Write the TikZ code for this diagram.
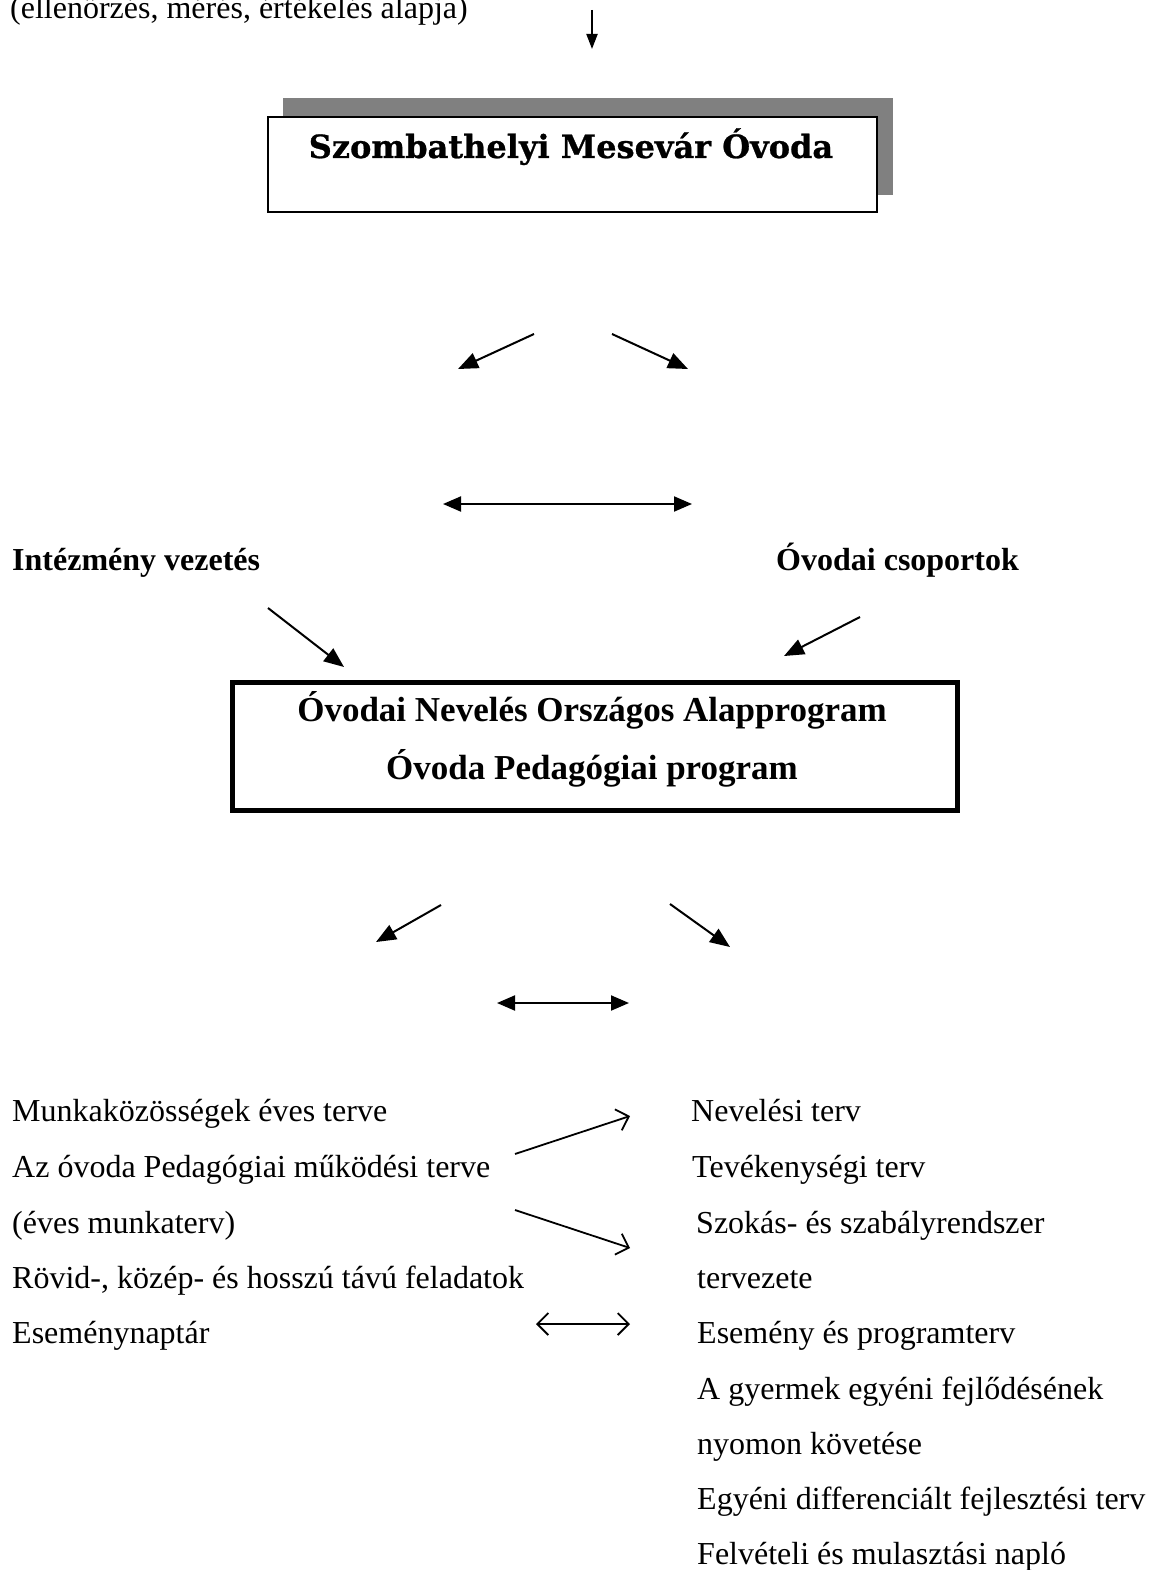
\documentclass[tikz,border=0pt]{standalone}
\usepackage{fontspec}
\setmainfont{Liberation Serif}
\newfontfamily\titlefont{DejaVu Serif}[BoldFeatures={FakeBold=0.8}]
\usetikzlibrary{arrows.meta}
\begin{document}
\begin{tikzpicture}[x=1pt,y=-1pt,
  reg/.style={anchor=base west,inner sep=0pt,font=\fontsize{32}{38}\selectfont},
  bld/.style={anchor=base west,inner sep=0pt,font=\fontsize{32}{38}\selectfont\bfseries},
  boxtxt/.style={anchor=base,inner sep=0pt,font=\fontsize{35}{42}\selectfont\bfseries},
  farrow/.style={line width=2pt,-{Triangle[length=20pt,width=16pt]}},
  fdarrow/.style={line width=2pt,{Triangle[length=18pt,width=15pt]}-{Triangle[length=18pt,width=15pt]}},
  oarrow/.style={line width=1.8pt,-{Straight Barb[length=11pt,width=22pt]}},
  odarrow/.style={line width=1.8pt,{Straight Barb[length=11pt,width=22pt]}-{Straight Barb[length=11pt,width=22pt]}}
]
\useasboundingbox (0,0) rectangle (1151,1570);
% top
\node[reg] (top) at (10,19) {(ellenőrzés, mérés, értékelés alapja)};
\coordinate (a0s) at (592,10);
\coordinate (a0e) at (592,49);
\draw[line width=2pt,-{Triangle[length=15pt,width=11pt]}] (a0s) -- (a0e);
% title box
\fill[black!50] (283,98) rectangle (893,195);
\node[draw,line width=2pt,fill=white,minimum width=609pt,minimum height=95pt,anchor=north west,inner sep=0pt] (title) at (267,116) {};
\node[anchor=base,inner sep=0pt,font=\titlefont\bfseries\fontsize{32}{38}\selectfont] (titletxt) at (571,158) {Szombathelyi Mesevár Óvoda};
% arrows
\coordinate (a1s) at (534,334); \coordinate (a1e) at (458,369);
\coordinate (a2s) at (612,334); \coordinate (a2e) at (688,369);
\draw[farrow] (a1s) -- (a1e);
\draw[farrow] (a2s) -- (a2e);
\coordinate (d1a) at (443,504); \coordinate (d1b) at (692,504);
\draw[fdarrow] (d1a) -- (d1b);
% labels
\node[bld] (inst) at (12,570) {Intézmény vezetés};
\node[bld] (csop) at (776,570) {Óvodai csoportok};
\coordinate (a3s) at (268,608); \coordinate (a3e) at (344,667);
\coordinate (a4s) at (860,617); \coordinate (a4e) at (784,656);
\draw[farrow] (a3s) -- (a3e);
\draw[farrow] (a4s) -- (a4e);
% main box
\node[draw,line width=5pt,minimum width=725pt,minimum height=128pt,anchor=north west,inner sep=0pt] (prog) at (229.5,679.5) {};
\node[boxtxt] (l1) at (592,721) {Óvodai Nevelés Országos Alapprogram};
\node[boxtxt] (l2) at (592,779) {Óvoda Pedagógiai program};
% lower arrows
\coordinate (a5s) at (441,905); \coordinate (a5e) at (376,942);
\coordinate (a6s) at (670,904); \coordinate (a6e) at (730,947);
\draw[farrow] (a5s) -- (a5e);
\draw[farrow] (a6s) -- (a6e);
\coordinate (d2a) at (497,1003); \coordinate (d2b) at (629,1003);
\draw[fdarrow] (d2a) -- (d2b);
% left column
\node[reg] (L1) at (12,1121) {Munkaközösségek éves terve};
\node[reg] (L2) at (12,1177) {Az óvoda Pedagógiai működési terve};
\node[reg] (L3) at (12,1233) {(éves munkaterv)};
\node[reg] (L4) at (12,1288) {Rövid-, közép- és hosszú távú feladatok};
\node[reg] (L5) at (12,1343) {Eseménynaptár};
% right column
\node[reg] (R1) at (691,1121) {Nevelési terv};
\node[reg] (R2) at (692,1177) {Tevékenységi terv};
\node[reg] (R3) at (696,1233) {Szokás- és szabályrendszer};
\node[reg] (R4) at (697,1288) {tervezete};
\node[reg] (R5) at (697,1343) {Esemény és programterv};
\node[reg] (R6) at (697,1399) {A gyermek egyéni fejlődésének};
\node[reg] (R7) at (697,1454) {nyomon követése};
\node[reg] (R8) at (697,1509) {Egyéni differenciált fejlesztési terv};
\node[reg] (R9) at (697,1564) {Felvételi és mulasztási napló};
% open arrows
\coordinate (o1s) at (515,1154); \coordinate (o1e) at (630,1116);
\coordinate (o2s) at (515,1210); \coordinate (o2e) at (630,1248);
\draw[oarrow] (o1s) -- (o1e);
\draw[oarrow] (o2s) -- (o2e);
\coordinate (d3a) at (536,1324); \coordinate (d3b) at (630,1324);
\draw[odarrow] (d3a) -- (d3b);
\end{tikzpicture}
\end{document}
